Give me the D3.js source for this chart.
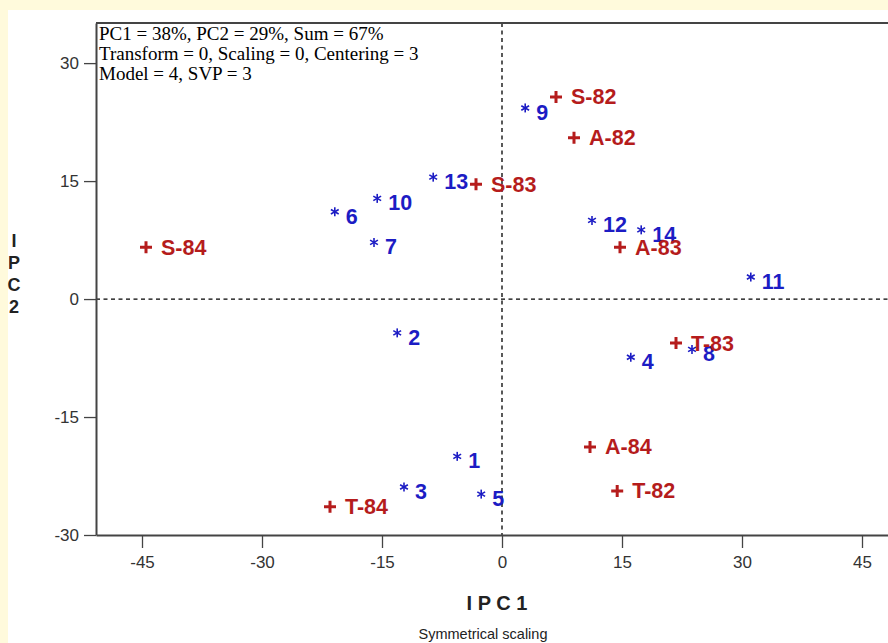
<!DOCTYPE html>
<html><head><meta charset="utf-8">
<script src="https://cdn.jsdelivr.net/npm/d3@7"></script>
<style>
html,body{margin:0;padding:0;background:#FFFADC;}
svg{display:block;}
</style></head>
<body>
<svg id="chart" width="888" height="643"></svg>
<script>
const annotation = ["PC1 = 38%, PC2 = 29%, Sum = 67%", "Transform = 0, Scaling = 0, Centering = 3", "Model = 4, SVP = 3"];
const xTicks = [-45, -30, -15, 0, 15, 30, 45];
const yTicks = [-30, -15, 0, 15, 30];
// red "+" points (variables)
const varLabels = ["S-82", "A-82", "S-83", "S-84", "A-83", "T-83", "A-84", "T-82", "T-84"];
const varX = [6.75, 9.0, -3.25, -44.5, 14.75, 21.75, 11.0, 14.4, -21.5];
const varY = [25.7, 20.5, 14.6, 6.6, 6.6, -5.6, -18.8, -24.4, -26.4];
// blue "*" points (objects)
const objLabels = ["1","2","3","4","5","6","7","8","9","10","11","12","13","14"];
const objX = [-5.6, -13.1, -12.25, 16.1, -2.6, -20.9, -16.0, 23.75, 2.9, -15.6, 31.1, 11.25, -8.6, 17.4];
const objY = [-20.0, -4.3, -23.9, -7.4, -24.8, 11.1, 7.2, -6.4, 24.3, 12.8, 2.8, 10.0, 15.5, 8.8];

(function () {
const svg = d3.select("#chart");
svg.append("rect").attr("x", 8).attr("y", 10).attr("width", 880).attr("height", 633).attr("fill", "#fff");

const pL = 96, pT = 23, pR = 888, pB = 535;
const x = d3.scaleLinear().domain([-50.75, 48.25]).range([pL, pR]);
const y = d3.scaleLinear().domain([-30, 35.1]).range([pB, pT]);

const RED = "#b51c1c", BLUE = "#1c1cc4";
const sans = "Arial, 'Liberation Sans', sans-serif";

// dashed zero lines
svg.append("line").attr("x1", x(0)).attr("x2", x(0)).attr("y1", pT).attr("y2", pB)
  .attr("stroke", "#000").attr("stroke-width", 1.3).attr("stroke-dasharray", "4,3.5");
svg.append("line").attr("x1", pL).attr("x2", pR).attr("y1", y(0)).attr("y2", y(0))
  .attr("stroke", "#000").attr("stroke-width", 1.3).attr("stroke-dasharray", "4,3.5");

// axes
const fmt = d => String(d);
const xAxis = d3.axisBottom(x).tickValues(xTicks).tickFormat(fmt).tickSize(13).tickPadding(8).tickSizeOuter(0);
const gx = svg.append("g").attr("transform", `translate(0,${pB})`).call(xAxis);
const yAxis = d3.axisLeft(y).tickValues(yTicks).tickFormat(fmt).tickSize(12).tickPadding(5).tickSizeOuter(0);
const gy = svg.append("g").attr("transform", `translate(${pL},0)`).call(yAxis);
[gx, gy].forEach(g => {
  g.select(".domain").attr("stroke", "#444").attr("stroke-width", 2);
  g.selectAll(".tick line").attr("stroke", "#444").attr("stroke-width", 1.3);
  g.selectAll(".tick text").attr("fill", "#333").attr("font-size", 17).attr("font-family", sans);
});
// top frame line
svg.append("line").attr("x1", pL).attr("x2", pR).attr("y1", pT).attr("y2", pT)
  .attr("stroke", "#444").attr("stroke-width", 2);

// annotation
svg.append("g").selectAll("text").data(annotation).join("text")
  .attr("x", pL + 3).attr("y", (d, i) => pT + 17 + i * 20)
  .attr("font-family", "'Times New Roman', 'Liberation Serif', serif").attr("font-size", 19)
  .attr("fill", "#000").text(d => d);

// axis titles
svg.append("text").attr("x", x(0) - 5).attr("y", 610).attr("text-anchor", "middle")
  .attr("font-family", sans).attr("font-weight", "bold").attr("font-size", 20).attr("fill", "#222")
  .text("I P C 1");
svg.append("text").attr("x", 483).attr("y", 639).attr("text-anchor", "middle")
  .attr("font-family", sans).attr("font-size", 14.5).attr("fill", "#222").text("Symmetrical scaling");
svg.append("g").selectAll("text").data(["I", "P", "C", "2"]).join("text")
  .attr("x", 14).attr("y", (d, i) => 247 + i * 22).attr("text-anchor", "middle")
  .attr("font-family", sans).attr("font-weight", "bold").attr("font-size", 18).attr("fill", "#222")
  .text(d => d);

// objects (blue asterisks)
const objs = objLabels.map((l, i) => ({label: l, x: objX[i], y: objY[i]}));
const og = svg.append("g").selectAll("g").data(objs).join("g")
  .attr("transform", d => `translate(${x(d.x)},${y(d.y)})`);
const r = 4.5;
[0, 60, 120].forEach(a => {
  og.append("line")
    .attr("x1", r * Math.sin(a * Math.PI / 180)).attr("y1", -r * Math.cos(a * Math.PI / 180))
    .attr("x2", -r * Math.sin(a * Math.PI / 180)).attr("y2", r * Math.cos(a * Math.PI / 180))
    .attr("stroke", BLUE).attr("stroke-width", 1.6);
});
og.append("text").attr("x", 11).attr("y", 12).attr("font-family", sans).attr("font-weight", "bold")
  .attr("font-size", 21.5).attr("fill", BLUE).text(d => d.label);

// variables (red plus)
const vars = varLabels.map((l, i) => ({label: l, x: varX[i], y: varY[i]}));
const vg = svg.append("g").selectAll("g").data(vars).join("g")
  .attr("transform", d => `translate(${x(d.x)},${y(d.y)})`);
vg.append("path").attr("d", "M-6,0H6M0,-6V6").attr("stroke", RED).attr("stroke-width", 3);
vg.append("text").attr("x", 15).attr("y", 7.5).attr("font-family", sans).attr("font-weight", "bold")
  .attr("font-size", 21.5).attr("fill", RED).text(d => d.label);
})();
</script>
</body></html>
